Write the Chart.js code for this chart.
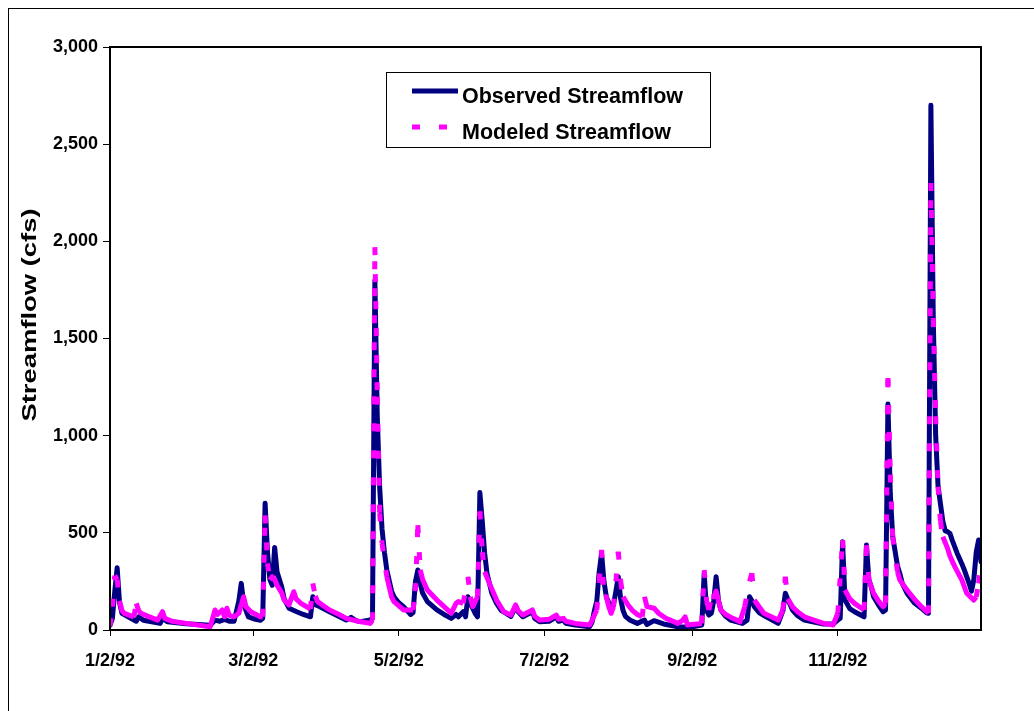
<!DOCTYPE html>
<html>
<head>
<meta charset="utf-8">
<script src="https://cdn.jsdelivr.net/npm/chart.js@4.4.1/dist/chart.umd.min.js"></script>
<style>
    html, body { margin: 0; padding: 0; background: #fff; }
    canvas { display: block; }
</style>
</head>
<body>
<canvas id="flowChart" width="1034" height="711"></canvas>
<script>
// day number counted from 1/2/92, with the flow (cfs)
const obsDays = [0,1,2,3,4,5,8,11,12,14,21,22,24,32,42,44,46,48,50,52,54,55,56,57,58,61,63,64,65,66,67,68,69,70,72,73,75,78,81,84,85,86,88,92,96,99,101,103,105,109,110,111,112,113,114,115,116,118,119,121,123,126,127,128,129,130,131,133,137,140,143,145,146,148,149,150,151,153,154,155,156,157,158,159,160,162,164,166,168,170,171,173,177,178,180,184,187,188,190,191,195,201,202,203,204,205,206,207,208,209,210,211,212,213,214,215,216,218,221,224,225,228,232,238,243,248,249,250,251,252,253,254,255,256,258,260,265,267,268,269,270,272,275,280,282,283,284,286,288,291,294,299,303,305,306,307,308,310,312,316,317,318,319,320,322,324,325,326,327,328,330,331,332,334,337,340,342,343,344,345,346,347,348,349,350,351,352,353,355,357,358,360,361,362,363,364,365];
const obsFlow = [25,60,200,320,140,86,65,45,68,50,34,60,42,32,24,51,45,55,45,45,150,240,140,100,68,55,50,60,652,400,260,230,425,300,220,160,112,95,80,68,171,130,120,94,70,51,65,48,43,51,60,1800,1100,737,520,400,309,200,171,140,120,80,90,250,309,240,190,146,103,80,60,80,68,94,68,171,137,86,68,707,560,395,290,240,190,137,100,86,70,120,95,68,94,60,43,45,68,45,51,35,26,17,40,100,150,300,395,250,170,140,120,130,200,274,160,100,70,50,34,51,28,48,31,17,14,26,292,100,77,86,150,274,150,103,70,51,34,51,171,150,120,90,68,34,100,189,160,103,75,51,43,31,31,51,60,454,154,110,94,68,437,260,223,171,130,94,103,1163,700,480,330,290,240,189,140,112,90,86,2700,1600,1000,740,650,560,510,506,497,460,395,340,309,240,200,260,400,463,351];

const modDays = [0,1,2,3,4,5,6,10,11,12,13,16,20,22,23,26,32,42,43,44,45,47,48,49,50,52,54,56,57,59,63,64,65,66,67,68,69,70,72,73,75,77,78,80,84,85,86,87,90,92,96,99,104,109,110,111,112,113,114,116,118,119,123,127,128,129,130,131,133,137,140,143,145,146,148,150,151,152,154,155,156,157,159,162,165,168,170,171,173,177,178,180,184,187,188,190,191,195,201,202,204,205,206,207,208,209,210,211,212,213,214,215,217,219,221,223,224,225,228,230,233,238,240,241,242,248,249,250,251,252,253,254,255,256,258,261,264,266,268,269,270,272,274,280,282,283,284,286,288,291,294,299,303,305,307,308,310,312,316,317,318,320,322,324,325,326,327,328,330,331,334,337,340,343,344,345,346,347,348,349,351,352,354,357,359,362,363,364,365];
const modFlow = [20,120,280,260,150,100,86,68,137,100,86,70,51,94,60,45,34,17,60,103,80,103,68,112,75,68,86,171,120,94,68,68,590,343,257,274,260,230,190,154,129,197,160,137,108,240,175,146,120,103,80,60,45,34,50,1970,1200,600,446,274,170,146,103,103,200,540,309,260,206,154,120,86,137,146,137,274,170,120,171,610,400,300,240,154,94,77,129,100,77,103,70,51,55,77,55,60,45,34,26,50,103,250,412,171,171,120,86,120,250,403,250,171,130,100,80,68,171,120,112,85,60,34,50,68,26,34,309,150,103,171,171,200,150,103,80,60,43,120,250,292,154,120,86,51,103,274,160,120,95,68,55,34,26,86,463,206,160,137,103,437,257,189,150,120,137,1297,800,480,300,257,206,160,120,86,2300,1600,1100,737,560,480,420,380,326,257,189,154,170,240,343];

const tickDays = [0, 60, 121, 182, 244, 305];
const tickLabels = ['1/2/92', '3/2/92', '5/2/92', '7/2/92', '9/2/92', '11/2/92'];

const FONT = '"Liberation Sans", Arial, sans-serif';
const DASH = [8, 19];

const toPoints = (days, flow) => days.map((d, i) => ({ x: d, y: flow[i] }));

// Excel restarts the dash on every daily step, so flat stretches look solid
// and only the steep climbs break into dashes
const isSteep = (c) => {
    const n = Math.max(1, modDays[c.p1DataIndex] - modDays[c.p0DataIndex]);
    return Math.hypot(c.p1.x - c.p0.x, c.p1.y - c.p0.y) / n > 12;
};

// frame, axis title and legend drawn by hand like the Excel original
const framePlugin = {
    id: 'framePlugin',
    beforeDraw(chart) {
        const ctx = chart.ctx;
        ctx.save();
        ctx.fillStyle = '#fff';
        ctx.fillRect(0, 0, chart.width, chart.height);
        ctx.restore();
    },
    afterDraw(chart) {
        const { ctx, chartArea: a } = chart;
        ctx.save();
        ctx.strokeStyle = '#000';
        ctx.lineWidth = 1;
        ctx.strokeRect(8.5, 8.5, 1100, 800);

        ctx.lineWidth = 2;
        ctx.strokeRect(a.left, a.top, a.right - a.left, a.bottom - a.top);

        // y axis title (stretched along its length as in the original)
        ctx.save();
        ctx.translate(30, 315);
        ctx.rotate(-Math.PI / 2);
        ctx.scale(1.37, 1);
        ctx.font = 'bold 20px ' + FONT;
        ctx.fillStyle = '#000';
        ctx.textAlign = 'center';
        ctx.textBaseline = 'middle';
        ctx.fillText('Streamflow (cfs)', 0, 0);
        ctx.restore();

        // legend box
        ctx.lineWidth = 1;
        ctx.strokeStyle = '#000';
        ctx.strokeRect(386.5, 72.5, 324, 75);
        const rows = [91, 127];
        const textRows = [97, 133];
        ctx.font = 'bold 21.5px ' + FONT;
        ctx.textAlign = 'left';
        ctx.textBaseline = 'middle';
        chart.data.datasets.forEach((ds, i) => {
            ctx.save();
            ctx.strokeStyle = ds.borderColor;
            ctx.lineWidth = ds.borderWidth;
            ctx.setLineDash(ds.borderDash || []);
            ctx.beginPath();
            ctx.moveTo(412, rows[i]);
            ctx.lineTo(458, rows[i]);
            ctx.stroke();
            ctx.restore();
            ctx.fillStyle = '#000';
            ctx.fillText(ds.label, 462, textRows[i]);
        });
        ctx.restore();
    }
};

new Chart(document.getElementById('flowChart'), {
    type: 'line',
    data: {
        datasets: [{
                label: 'Observed Streamflow',
                data: toPoints(obsDays, obsFlow),
                borderColor: '#000080',
                borderWidth: 5,
                borderJoinStyle: 'round',
                borderCapStyle: 'round',
                pointRadius: 0,
                tension: 0,
                order: 1,
            },
            {
                label: 'Modeled Streamflow',
                data: toPoints(modDays, modFlow),
                borderColor: '#ff00ff',
                borderWidth: 5,
                borderDash: DASH,
                borderJoinStyle: 'round',
                pointRadius: 0,
                tension: 0,
                order: 0,
                segment: {
                    borderDash: (c) => isSteep(c) ? DASH : [],
                    borderDashOffset: (c) => isSteep(c) && c.p0DataIndex % 2 ? 27 : 0
                }
            }
        ]
    },
    options: {
        responsive: false,
        animation: false,
        devicePixelRatio: 1,
        layout: { padding: { top: 47, right: 53, left: 0, bottom: 0 } },
        plugins: {
            legend: { display: false },
            tooltip: { enabled: false }
        },
        scales: {
            x: {
                type: 'linear',
                min: 0,
                max: 365,
                afterBuildTicks: (axis) => {
                    axis.ticks = tickDays.map(v => ({ value: v }));
                },
                afterFit: (scale) => { scale.height = 81; },
                grid: {
                    drawOnChartArea: false,
                    drawTicks: true,
                    tickLength: 6,
                    tickColor: '#000',
                    color: '#000'
                },
                border: { display: false },
                ticks: {
                    autoSkip: false,
                    maxRotation: 0,
                    padding: 14,
                    color: '#000',
                    font: { family: FONT, size: 18, weight: 'bold' },
                    callback: (v) => tickLabels[tickDays.indexOf(v)]
                }
            },
            y: {
                min: 0,
                max: 3000,
                afterFit: (scale) => { scale.width = 110; },
                grid: {
                    drawOnChartArea: false,
                    drawTicks: true,
                    tickLength: 7,
                    tickColor: '#000',
                    color: '#000'
                },
                border: { display: false },
                ticks: {
                    stepSize: 500,
                    padding: 5,
                    color: '#000',
                    font: { family: FONT, size: 18, weight: 'bold' },
                    callback: (v) => v.toLocaleString('en-US')
                }
            }
        }
    },
    plugins: [framePlugin]
});
</script>
</body>
</html>
